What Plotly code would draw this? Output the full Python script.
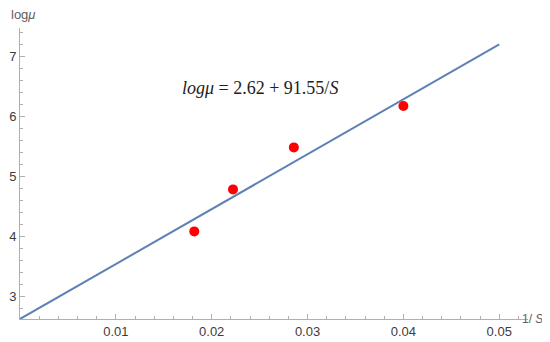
import plotly.graph_objects as go

# data
inv_s = [1/55, 1/45, 1/35, 1/25]
log_mu = [4.08, 4.78, 5.48, 6.17]
intercept = 2.62
slope = 91.55
fit_x = [0.0, 0.05]
fit_y = [intercept + slope * v for v in fit_x]
x_ticks = [0.01, 0.02, 0.03, 0.04, 0.05]
x_ticklabels = ["0.01", "0.02", "0.03", "0.04", "0.05"]
y_ticks = [3, 4, 5, 6, 7]

axis_col = "#b0b0b0"
tick_font = dict(family="Liberation Sans, Arial, sans-serif", size=13, color="#3c3c3c")

fig = go.Figure()
fig.add_trace(go.Scatter(x=fit_x, y=fit_y, mode="lines",
                         line=dict(color="#5E81B5", width=2), showlegend=False,
                         cliponaxis=False))
fig.add_trace(go.Scatter(x=inv_s, y=log_mu, mode="markers",
                         marker=dict(color="#ff0000", size=10), showlegend=False))

fig.add_annotation(x=0.0250, y=6.47, xref="x", yref="y", showarrow=False,
                   text="<i>log</i><i>μ</i> = 2.62 + 91.55/<i>S</i>",
                   font=dict(family="Liberation Serif, DejaVu Serif, serif", size=18, color="#222222"))
fig.add_annotation(x=-0.0226, y=1.045, xref="paper", yref="paper", showarrow=False,
                   text="log<i>μ</i>", xanchor="left", yanchor="middle",
                   font=dict(family="Liberation Sans, Arial, sans-serif", size=13, color="#606060"))
fig.add_annotation(x=1.034, y=0, xref="paper", yref="paper", showarrow=False,
                   text="1/ <i>S</i>", xanchor="right", yanchor="middle",
                   font=dict(family="Liberation Sans, Arial, sans-serif", size=12, color="#606060"))

fig.update_layout(
    width=542, height=334,
    margin=dict(l=11.5, r=22, t=20, b=23.4, autoexpand=False),
    plot_bgcolor="white", paper_bgcolor="white",
    xaxis=dict(range=[0, 0.053], showgrid=False, zeroline=False, automargin=False,
               showline=True, linecolor=axis_col, linewidth=1,
               tickvals=x_ticks, ticktext=x_ticklabels,
               ticks="inside", ticklen=5, tickcolor=axis_col,
               tickfont=tick_font,
               minor=dict(dtick=0.002, tick0=0, ticks="inside", ticklen=3, tickcolor=axis_col)),
    yaxis=dict(range=[2.62, 7.47], showgrid=False, zeroline=False, automargin=False,
               showline=True, linecolor=axis_col, linewidth=1,
               tickvals=y_ticks, ticks="inside", ticklen=5, tickcolor=axis_col,
               tickfont=tick_font,
               minor=dict(dtick=0.2, tick0=0, ticks="inside", ticklen=3, tickcolor=axis_col)),
)
fig.write_html("out.html")
